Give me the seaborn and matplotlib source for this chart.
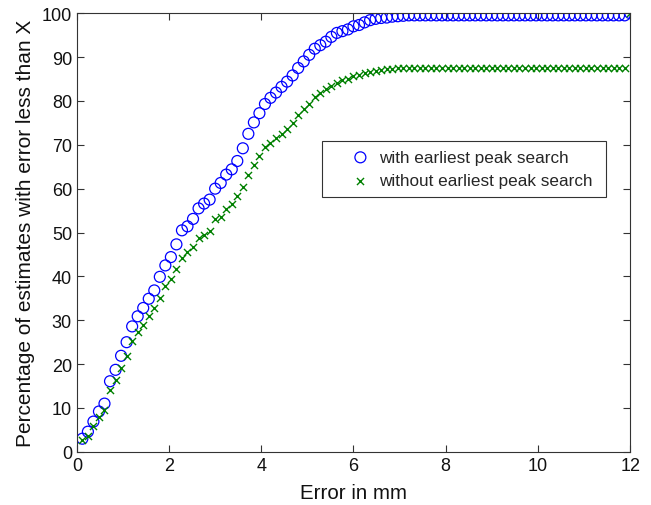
import numpy as np
import pandas as pd
import matplotlib
matplotlib.use("Agg")
import matplotlib.pyplot as plt
import seaborn as sns

sns.set_style("ticks")
plt.rcParams['font.family'] = ['Liberation Sans', 'DejaVu Sans']

# error thresholds in mm (100 steps of 0.12 mm)
error_mm = [round(0.12 * k, 2) for k in range(1, 101)]

# percentage with earliest peak search
with_peak = [3.0, 4.6, 6.9, 9.2, 11.0, 16.1, 18.7, 21.9, 25.0, 28.6,
             30.9, 32.8, 34.9, 36.8, 39.9, 42.5, 44.4, 47.3, 50.5, 51.4,
             53.1, 55.5, 56.6, 57.5, 60.0, 61.3, 63.2, 64.4, 66.3, 69.2,
             72.5, 75.1, 77.2, 79.3, 80.7, 81.9, 83.2, 84.4, 85.8, 87.5,
             89.0, 90.5, 91.9, 92.7, 93.5, 94.6, 95.5, 95.9, 96.3, 97.0,
             97.3, 97.9, 98.4, 98.7, 98.9, 99.0, 99.2, 99.3, 99.4, 99.5,
             99.5, 99.5, 99.5, 99.5, 99.5, 99.5, 99.5, 99.5, 99.5, 99.5,
             99.5, 99.5, 99.5, 99.5, 99.5, 99.5, 99.5, 99.5, 99.5, 99.5,
             99.5, 99.5, 99.5, 99.5, 99.5, 99.5, 99.5, 99.5, 99.5, 99.5,
             99.5, 99.5, 99.5, 99.5, 99.5, 99.5, 99.5, 99.5, 99.5, 100.0]

# percentage without earliest peak search
without_peak = [2.6, 3.7, 5.8, 7.9, 9.6, 14.0, 16.3, 19.1, 21.9, 25.2,
                27.3, 29.0, 30.9, 32.9, 35.1, 37.7, 39.4, 41.6, 44.2, 45.5,
                46.7, 48.8, 49.5, 50.3, 53.0, 53.6, 55.3, 56.4, 58.3, 60.4,
                63.0, 65.4, 67.5, 69.5, 70.4, 71.5, 72.5, 73.6, 75.0, 76.7,
                78.1, 79.3, 80.8, 81.7, 82.7, 83.4, 84.1, 84.7, 85.1, 85.6,
                86.0, 86.3, 86.7, 86.9, 87.1, 87.2, 87.3, 87.4, 87.5, 87.5,
                87.5, 87.5, 87.5, 87.5, 87.5, 87.5, 87.5, 87.5, 87.5, 87.5,
                87.5, 87.5, 87.5, 87.5, 87.5, 87.5, 87.5, 87.5, 87.5, 87.5,
                87.5, 87.5, 87.5, 87.5, 87.5, 87.5, 87.5, 87.5, 87.5, 87.5,
                87.5, 87.5, 87.5, 87.5, 87.5, 87.5, 87.5, 87.5, 87.5, 100.0]

df = pd.DataFrame({'error': error_mm, 'with': with_peak, 'without': without_peak})

fig, ax = plt.subplots(figsize=(6.51, 5.06), dpi=100)
fig.subplots_adjust(left=0.118, right=0.968, bottom=0.105, top=0.972)

sns.scatterplot(data=df, x='error', y='with', ax=ax, marker='o', s=62,
                facecolor='none', edgecolor='blue', linewidth=0.9,
                label='with earliest peak search')
sns.scatterplot(data=df, x='error', y='without', ax=ax, marker='x', s=26,
                color='green', linewidth=1.0,
                label='without earliest peak search')

ax.set_xlim(0, 12)
ax.set_ylim(0, 100)
ax.set_xticks(np.arange(0, 13, 2))
ax.set_yticks(np.arange(0, 101, 10))
ax.tick_params(direction='in', top=True, right=True, length=5,
               labelsize=13, width=0.8, color='#333333', labelcolor='#111111')
for s in ax.spines.values():
    s.set_linewidth(0.8)
    s.set_color('#333333')

ax.set_xlabel('Error in mm', fontsize=14.8, labelpad=7, color='#111111')
ax.set_ylabel('Percentage of estimates with error less than X', fontsize=15,
              labelpad=5, color='#111111')

leg = ax.legend(loc='upper left', bbox_to_anchor=(0.443, 0.588, 0.514, 0.12),
                mode='expand', fontsize=12.3, frameon=True, fancybox=False,
                edgecolor='black', borderpad=0.5, handlelength=3.5,
                handletextpad=-0.68, borderaxespad=0)
leg.get_frame().set_linewidth(0.8)

fig.savefig('out.png', dpi=100)
